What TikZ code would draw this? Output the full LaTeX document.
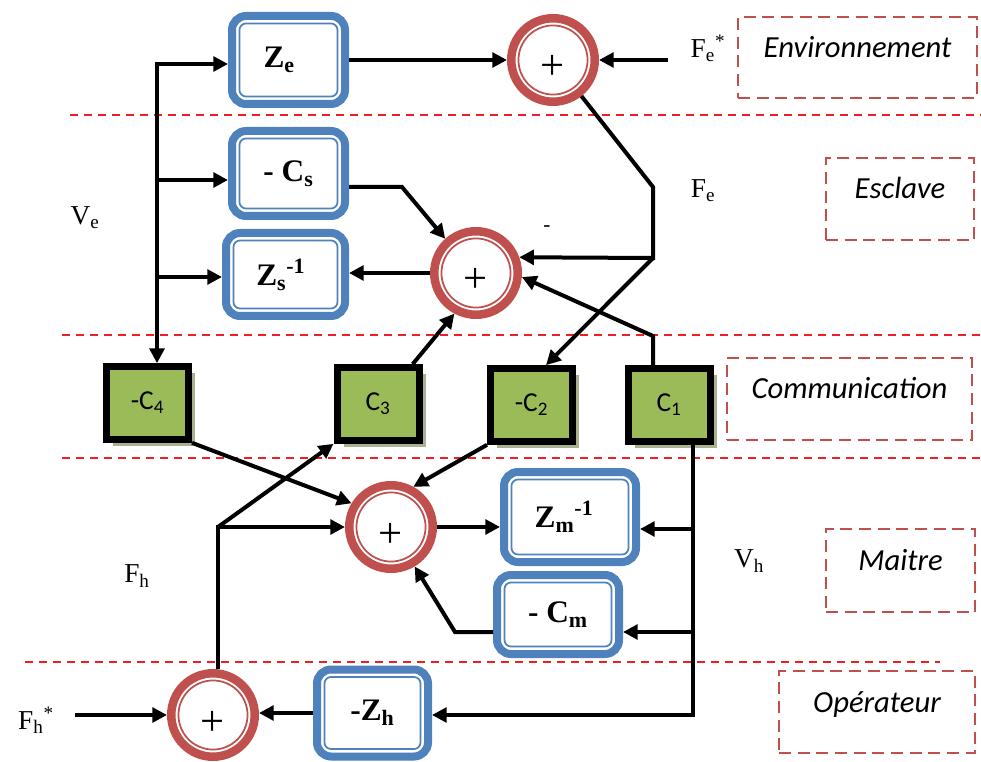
\documentclass[tikz,border=0pt]{standalone}
\usepackage{fontspec}
\setmainfont{Liberation Serif}
\newfontfamily\carlito{Carlito}
\usetikzlibrary{arrows.meta,shadows,calc}
\definecolor{bluec}{RGB}{79,129,189}
\definecolor{redc}{RGB}{192,80,77}
\definecolor{grn}{RGB}{155,187,89}
\definecolor{shcol}{RGB}{168,178,145}
\definecolor{sepred}{RGB}{240,30,30}
\begin{document}
\begin{tikzpicture}[x=0.75pt,y=-0.75pt,
  wire/.style={draw=black,line width=3pt},
  arr/.style={wire,-{Triangle[length=11pt,width=11pt]}},
  arrtwo/.style={wire,{Triangle[length=11pt,width=11pt]}-{Triangle[length=11pt,width=11pt]}},
  bbox/.style={draw=bluec,line width=6pt,rounded corners=10.5pt,fill=white,inner sep=0pt,
    font=\bfseries\fontsize{23.5pt}{27pt}\selectfont,
    path picture={\draw[bluec,line width=1.3pt,rounded corners=5pt]
      ([xshift=5.6pt,yshift=-5.6pt]path picture bounding box.north west) rectangle
      ([xshift=-5.6pt,yshift=5.6pt]path picture bounding box.south east);}},
  sumc/.style={circle,draw=redc,line width=6.4pt,fill=white,minimum size=62.6pt,inner sep=0pt,
    font=\fontsize{32pt}{36pt}\selectfont,text height=30pt,text depth=0pt,
    path picture={\draw[redc,line width=1.3pt] (path picture bounding box.center) circle[radius=25.9pt];}},
  gbox/.style={draw=black,line width=5.25pt,fill=grn,minimum width=61.5pt,minimum height=54.5pt,inner sep=0pt,
    font=\carlito\fontsize{20.5pt}{24pt}\selectfont,
    general shadow={fill=shcol,shadow xshift=5pt,shadow yshift=-5pt}},
  lbox/.style={draw=redc,line width=1.5pt,dash pattern=on 9pt off 5pt,inner sep=0pt,
    font=\carlito\itshape\fontsize{23pt}{27pt}\selectfont,text height=16pt,text depth=16pt},
  sep/.style={draw=sepred,line width=1pt,dash pattern=on 6pt off 4.5pt},
  txt/.style={font=\fontsize{20.5pt}{24pt}\selectfont,inner sep=0pt}
]
\fill[white] (0,0) rectangle (981,762);
\useasboundingbox (0,0) rectangle (981,762);

% separators
\draw[sep] (70,115) -- (981,115);
\draw[sep] (62,335) -- (981,335);
\draw[sep] (62,458) -- (981,458);
\draw[sep] (25,662) -- (940,662);

% layer label boxes
\node[lbox,minimum width=179.25pt,minimum height=60.75pt] (lenv) at (857.5,57.5) {Environnement};
\node[lbox,minimum width=111pt,minimum height=61.5pt] (lesc) at (900,199) {Esclave};
\node[lbox,minimum width=183.75pt,minimum height=61.5pt] (lcom) at (849.5,399) {Communication};
\node[lbox,minimum width=111.75pt,minimum height=62.25pt] (lmai) at (900.5,570.5) {Maitre};
\node[lbox,minimum width=147pt,minimum height=61.5pt] (lope) at (877,712) {Opérateur};

% blue blocks
\node[bbox,minimum width=84.75pt,minimum height=66pt] (ze) at (288.5,60) {Z\textsubscript{e}\hspace*{14pt}};
\node[bbox,minimum width=84.75pt,minimum height=63.75pt] (cs) at (288.5,173.5) {- C\textsubscript{s}};
\node[bbox,minimum width=89.25pt,minimum height=62.25pt] (zs) at (285.5,274.5) {Z\textsubscript{s}\textsuperscript{-1}\hspace*{7pt}};
\node[bbox,minimum width=99pt,minimum height=67.5pt] (zm) at (570,517) {Z\textsubscript{m}\textsuperscript{-1}\hspace*{9pt}};
\node[bbox,minimum width=91.5pt,minimum height=59.25pt] (cm) at (558,614.5) {- C\textsubscript{m}};
\node[bbox,minimum width=83.25pt,minimum height=65.25pt] (zh) at (372.5,713) {-Z\textsubscript{h}};

% summing junctions
\node[sumc] (sumE) at (553,60) {+};
\node[sumc] (sumS) at (476,273) {+};
\node[sumc] (sumM) at (391,527) {+};
\node[sumc] (sumO) at (213,715) {+};

% communication blocks
\node[gbox] (c4) at (147.5,403) {-C\textsubscript{4}};
\node[gbox] (c3) at (378,404) {C\textsubscript{3}};
\node[gbox] (c2) at (531.5,405) {-C\textsubscript{2}};
\node[gbox] (c1) at (669,405) {C\textsubscript{1}};

% signal labels
\node[txt] (lfes) at (708,48) {F\textsubscript{e}\textsuperscript{*}};
\node[txt] (lfe) at (703,191) {F\textsubscript{e}};
\node[txt] (lve) at (85,218) {V\textsubscript{e}};
\node[txt,font=\fontsize{16pt}{18pt}\selectfont] (lminus) at (547,229) {-};
\node[txt] (lfh) at (137,576) {F\textsubscript{h}};
\node[txt] (lvh) at (749,561) {V\textsubscript{h}};
\node[txt] (lfhs) at (36,720) {F\textsubscript{h}\textsuperscript{*}};

% coordinates for bends
\coordinate (bTop) at (157,64);
\coordinate (bCs) at (157,180);
\coordinate (bZs) at (157,277);
\coordinate (feIn) at (668,60);
\coordinate (k1) at (653,187);
\coordinate (k2) at (653,258);
\coordinate (k3) at (653,336);
\coordinate (k4) at (402,187);
\coordinate (k5) at (218,527);
\coordinate (k6) at (693,715);
\coordinate (k7) at (693,529);
\coordinate (k8) at (693,632);
\coordinate (k9) at (455,632);
\coordinate (fhIn) at (75,715);

% V_e bus
\draw[arrtwo] (bTop -| ze.west) -- (bTop) -- (bTop |- c4.north);
\draw[arr] (bCs) -- (bCs -| cs.west);
\draw[arr] (bZs) -- (bZs -| zs.west);

% environment
\draw[arr] (ze) -- (sumE);
\draw[arr] (feIn) -- (sumE);
\draw[arr] (sumE) -- (k1) -- (k2) -- (sumS.20);
\draw[arr] (k2) -- (c2.70);

% slave
\draw[arr] (c1.north -| k3) -- (k3) -- (sumS.-5);
\draw[arr] (c3.49) -- (sumS.-118);
\draw[arr] (cs.east |- k4) -- (k4) -- (sumS.132);
\draw[arr] (sumS.west) -- (sumS.west -| zs.east);

% master
\draw[arr] (c4.south east) -- (sumM.149);
\draw[arr] (c2.south west) -- (sumM.61);
\draw[arr] (k5 |- sumO.north) -- (k5) -- (sumM.west);
\draw[arr] (k5) -- (c3.south west);
\draw[arr] (sumM.east) -- (sumM.east -| zm.west);
\draw[arr] (c1.south -| k6) -- (k6) -- (k6 -| zh.east);
\draw[arr] (k7) -- (k7 -| zm.east);
\draw[arr] (k8) -- (k8 -| cm.east);
\draw[arr] (cm.west |- k9) -- (k9) -- (sumM.-59);

% operator
\draw[arr] (zh.west) -- (zh.west -| sumO.east);
\draw[arr] (fhIn) -- (sumO.west);
\end{tikzpicture}
\end{document}
